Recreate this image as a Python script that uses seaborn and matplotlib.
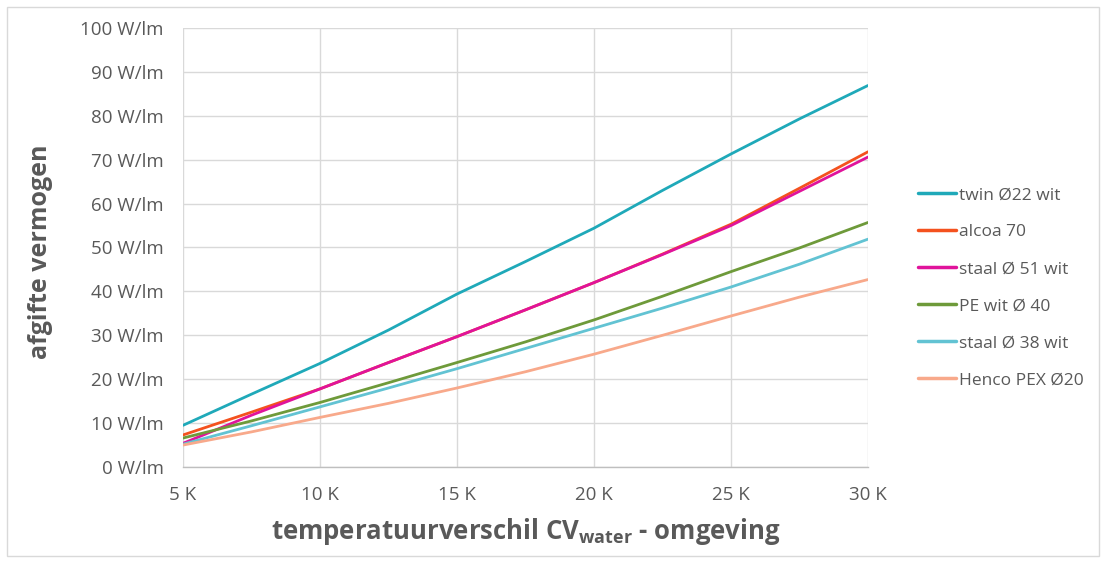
import matplotlib
matplotlib.use("Agg")
import matplotlib.pyplot as plt
import seaborn as sns
import pandas as pd
from matplotlib.patches import Rectangle

temps = [5, 7.5, 10, 12.5, 15, 17.5, 20, 22.5, 25, 27.5, 30]
twin = [9.5, 16.6, 23.6, 31.2, 39.4, 46.8, 54.4, 63.0, 71.3, 79.3, 86.9]
alcoa = [7.3, 12.5, 17.8, 23.8, 29.7, 35.8, 42.0, 48.5, 55.3, 63.5, 71.8]
staal51 = [5.4, 11.8, 17.8, 23.8, 29.7, 35.8, 42.0, 48.4, 55.0, 62.8, 70.6]
pe = [6.6, 10.5, 14.7, 19.2, 23.8, 28.5, 33.5, 38.9, 44.5, 49.9, 55.7]
staal38 = [5.2, 9.4, 13.7, 18.0, 22.4, 27.0, 31.6, 36.2, 41.0, 46.2, 51.9]
henco = [5.0, 8.0, 11.3, 14.5, 18.0, 21.7, 25.7, 30.0, 34.4, 38.7, 42.7]

series_names = ["twin Ø22 wit", "alcoa 70", "staal Ø 51 wit", "PE wit Ø 40",
                "staal Ø 38 wit", "Henco PEX Ø20"]
series_values = [twin, alcoa, staal51, pe, staal38, henco]
colors = ["#1FA9B9", "#F4511E", "#E0139B", "#6E9A3A", "#62C3D3", "#F8A98B"]
xticks = [5, 10, 15, 20, 25, 30]
xtick_labels = ["5 K", "10 K", "15 K", "20 K", "25 K", "30 K"]
yticks = list(range(0, 101, 10))
ytick_labels = [f"{v} W/lm" for v in yticks]

rows = []
for name, vals in zip(series_names, series_values):
    for t, v in zip(temps, vals):
        rows.append({"temp": t, "value": v, "series": name})
df = pd.DataFrame(rows)

sns.set_theme(style="white")
plt.rcParams["font.family"] = ["Open Sans", "DejaVu Sans"]
text_color = "#595959"

fig = plt.figure(figsize=(11.06, 5.63), dpi=100)
ax = fig.add_axes([0.1655, 0.1705, 0.7848 - 0.1655, 0.9503 - 0.1705])

sns.lineplot(data=df, x="temp", y="value", hue="series", hue_order=series_names,
             palette=colors, linewidth=2.0, ax=ax, legend=False)

ax.set_xlim(5, 30)
ax.set_ylim(0, 100)
ax.set_xticks(xticks)
ax.set_xticklabels(xtick_labels)
ax.set_yticks(yticks)
ax.set_yticklabels(ytick_labels)
ax.tick_params(axis="both", colors=text_color, labelsize=13.5, length=0)
ax.tick_params(axis="y", pad=14)
ax.tick_params(axis="x", pad=14)
ax.grid(True, color="#D9D9D9", linewidth=1.0)
ax.set_axisbelow(True)
for s in ["top", "right", "left"]:
    ax.spines[s].set_visible(False)
ax.spines["bottom"].set_color("#BFBFBF")
ax.spines["bottom"].set_linewidth(1.0)

ax.set_xlabel("temperatuurverschil CV$_{\\mathregular{water}}$ - omgeving",
              fontsize=18.5, fontweight="bold", color=text_color, labelpad=8)
ax.set_ylabel("afgifte vermogen", fontsize=18, fontweight="bold",
              color=text_color)
ax.yaxis.set_label_coords(-0.19, 0.49)

handles = [plt.Line2D([], [], color=c, linewidth=2.5) for c in colors]
leg = ax.legend(handles, series_names, loc="center left",
                bbox_to_anchor=(1.05, 0.408), frameon=False, fontsize=12.5,
                handlelength=2.2, handletextpad=0.15, labelspacing=1.2)
for t in leg.get_texts():
    t.set_color(text_color)

fig.patches.append(Rectangle((0.006, 0.012), 0.988, 0.976, transform=fig.transFigure,
                             fill=False, edgecolor="#D9D9D9", linewidth=1.0))

fig.savefig("out.png", dpi=100)
